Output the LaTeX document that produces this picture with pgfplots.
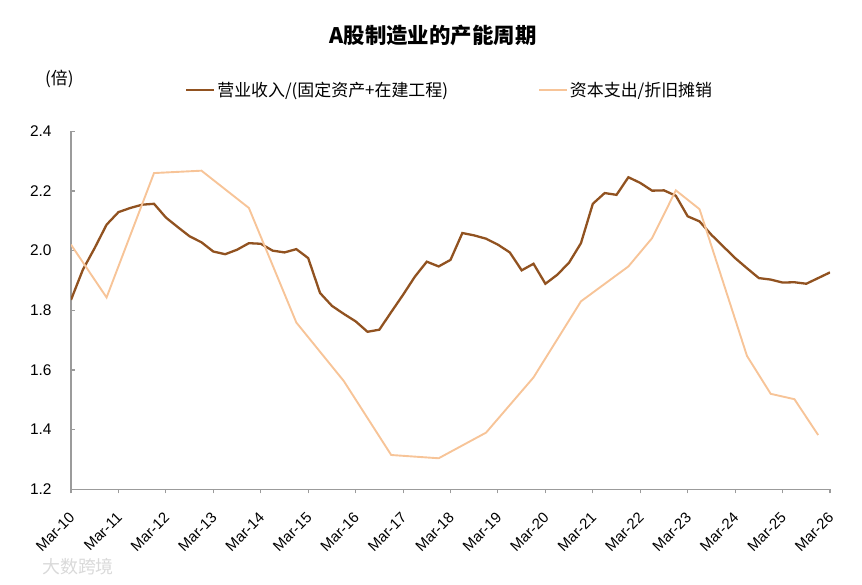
\documentclass[border=0pt]{standalone}
\usepackage{fontspec}
\setmainfont{Liberation Sans}
\newfontfamily\cjk{Noto Sans CJK SC}
\usepackage{pgfplots}
\pgfplotsset{compat=1.18}
\usepackage{pgfplotstable}
\definecolor{darkbrown}{RGB}{145,82,32}
\definecolor{peach}{RGB}{247,196,152}
\definecolor{axisgray}{RGB}{155,155,155}

\pgfplotstableread{
x y
0 1.835
1 1.936
2 2.009
3 2.087
4 2.129
5 2.143
6 2.154
7 2.157
8 2.111
9 2.079
10 2.048
11 2.028
12 1.997
13 1.988
14 2.003
15 2.025
16 2.023
17 2.000
18 1.994
19 2.005
20 1.975
21 1.858
22 1.815
23 1.788
24 1.763
25 1.728
26 1.735
27 1.794
28 1.852
29 1.913
30 1.963
31 1.947
32 1.969
33 2.059
34 2.051
35 2.040
36 2.020
37 1.994
38 1.934
39 1.956
40 1.889
41 1.919
42 1.960
43 2.025
44 2.157
45 2.193
46 2.187
47 2.246
48 2.227
49 2.201
50 2.202
51 2.184
52 2.115
53 2.098
54 2.053
55 2.014
56 1.975
57 1.941
58 1.908
59 1.903
60 1.893
61 1.894
62 1.889
63 1.908
64 1.927
}\revenue

\pgfplotstableread{
x y
0 2.020
3 1.843
7 2.260
11 2.268
15 2.143
19 1.759
23 1.563
27 1.315
31 1.304
35 1.390
39 1.575
43 1.830
47 1.947
49 2.042
51 2.202
53 2.139
57 1.647
59 1.520
61 1.502
63 1.382
}\capex

\begin{document}
\begin{tikzpicture}
\useasboundingbox (-71bp,-95.7bp) rectangle (791bp,489.3bp);
\begin{axis}[
  at={(0,0)}, anchor=south west,
  scale only axis,
  width=759bp, height=358bp,
  xmin=0, xmax=64, ymin=1.2, ymax=2.4,
  axis x line*=bottom, axis y line*=left,
  axis line style={axisgray, line width=1.3bp},
  tick align=inside,
  major tick length=4bp,
  tick style={axisgray, line width=1.1bp},
  x tick style={yshift=-4bp},
  xtick={0,4,...,64},
  xticklabels={Mar-10,Mar-11,Mar-12,Mar-13,Mar-14,Mar-15,Mar-16,Mar-17,Mar-18,Mar-19,Mar-20,Mar-21,Mar-22,Mar-23,Mar-24,Mar-25,Mar-26},
  ytick={1.2,1.4,1.6,1.8,2.0,2.2,2.4},
  yticklabels={1.2,1.4,1.6,1.8,2.0,2.2,2.4},
  xticklabel style={xshift=1bp, yshift=-26bp, rotate=45, anchor=east, inner sep=0pt, font=\fontsize{15}{15}\selectfont},
  yticklabel style={font=\fontsize{15.5}{15.5}\selectfont, xshift=-16bp},
  legend columns=2,
  legend style={at={(0.150,1.115)}, anchor=west, draw=none, fill=none,
    inner xsep=0pt, font=\cjk\fontsize{17}{17}\selectfont,
    /tikz/every even column/.append style={column sep=88bp},
    cells={anchor=west}},
  legend image code/.code={\draw[#1] (0bp,0bp) -- (28bp,0bp);},
]
\addplot[darkbrown, line width=2.3bp] table[x=x,y=y] {\revenue};
\addlegendentry{营业收入/(固定资产+在建工程)}
\addplot[peach, line width=1.9bp] table[x=x,y=y] {\capex};
\addlegendentry{资本支出/折旧摊销}
\end{axis}
\node[anchor=center, font=\cjk\bfseries\fontsize{21.5}{21.5}\selectfont] at (362bp,454bp) {A股制造业的产能周期};
\node[anchor=west, font=\cjk\fontsize{17}{17}\selectfont, inner sep=0pt] at (-26bp,410bp) {(倍)};
\node[anchor=west, font=\cjk\fontsize{18}{18}\selectfont, text=gray!30, inner sep=0pt] at (-29bp,-77bp) {大数跨境};
\end{tikzpicture}
\end{document}
